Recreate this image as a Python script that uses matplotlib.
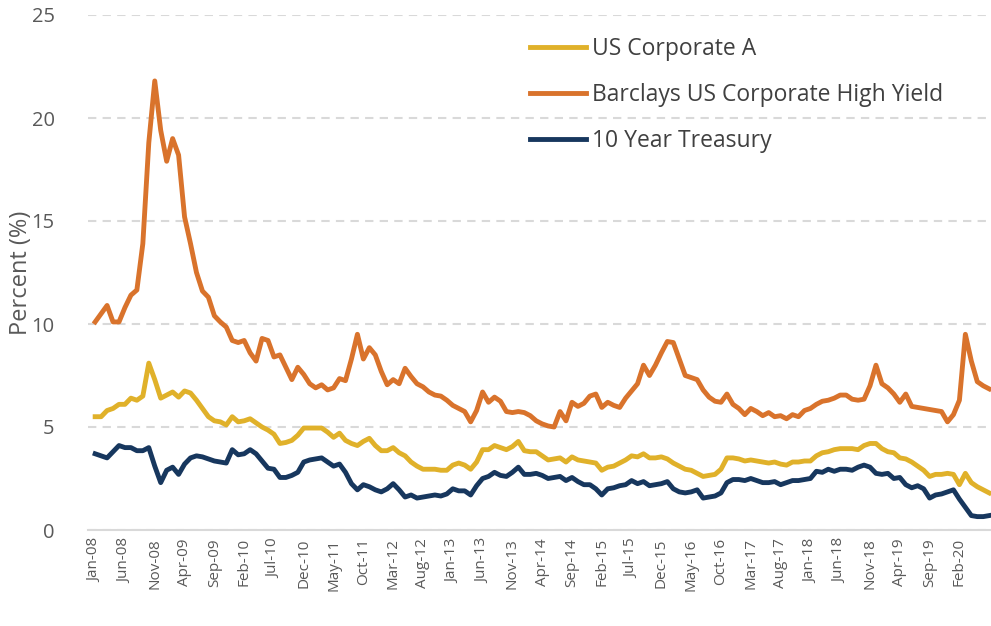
import numpy as np
import pandas as pd
import matplotlib
matplotlib.use("Agg")
import matplotlib.pyplot as plt

plt.rcParams['font.family'] = ['Open Sans', 'DejaVu Sans']

# monthly, Jan-08 .. Jul-20
months = pd.date_range("2008-01-01", "2020-07-01", freq="MS").strftime("%b-%y").tolist()

corp_a = [5.5, 5.5, 5.8, 5.9, 6.1, 6.1, 6.4, 6.3, 6.5, 8.1, 7.3, 6.4,
          6.55, 6.7, 6.45, 6.75, 6.65, 6.3, 5.9, 5.5, 5.3, 5.25, 5.1, 5.5,
          5.25, 5.3, 5.4, 5.2, 5.0, 4.85, 4.65, 4.2, 4.25, 4.35, 4.6, 4.95,
          4.95, 4.95, 4.95, 4.75, 4.5, 4.7, 4.35, 4.2, 4.1, 4.3, 4.45, 4.1,
          3.85, 3.85, 4.0, 3.75, 3.6, 3.3, 3.1, 2.95, 2.95, 2.95, 2.9, 2.9,
          3.15, 3.25, 3.15, 2.95, 3.3, 3.9, 3.9, 4.1, 4.0, 3.9, 4.05, 4.3,
          3.85, 3.8, 3.8, 3.6, 3.4, 3.45, 3.5, 3.3, 3.55, 3.4, 3.35, 3.3,
          3.25, 2.9, 3.05, 3.1, 3.25, 3.4, 3.6, 3.55, 3.7, 3.5, 3.5, 3.55,
          3.45, 3.25, 3.1, 2.95, 2.9, 2.75, 2.6, 2.65, 2.7, 2.95, 3.5, 3.5,
          3.45, 3.35, 3.4, 3.35, 3.3, 3.25, 3.3, 3.2, 3.15, 3.3, 3.3, 3.35,
          3.35, 3.6, 3.75, 3.8, 3.9, 3.95, 3.95, 3.95, 3.9, 4.1, 4.2, 4.2,
          3.95, 3.8, 3.75, 3.5, 3.45, 3.3, 3.1, 2.9, 2.6, 2.7, 2.7, 2.75,
          2.7, 2.2, 2.75, 2.3, 2.1, 1.95, 1.8]

high_yield = [10.1, 10.5, 10.9, 10.1, 10.1, 10.8, 11.4, 11.65, 13.9, 18.8, 21.8, 19.4,
              17.9, 19.0, 18.2, 15.2, 13.9, 12.5, 11.6, 11.3, 10.4, 10.1, 9.85, 9.2,
              9.1, 9.2, 8.6, 8.2, 9.3, 9.2, 8.4, 8.5, 7.9, 7.3, 7.9, 7.55,
              7.1, 6.9, 7.05, 6.8, 6.9, 7.35, 7.25, 8.3, 9.5, 8.3, 8.85, 8.5,
              7.7, 7.05, 7.3, 7.1, 7.85, 7.45, 7.1, 6.95, 6.7, 6.55, 6.5, 6.3,
              6.05, 5.9, 5.75, 5.25, 5.8, 6.7, 6.2, 6.45, 6.25, 5.75, 5.7, 5.75,
              5.7, 5.55, 5.3, 5.15, 5.05, 5.0, 5.75, 5.3, 6.2, 6.0, 6.15, 6.5,
              6.6, 5.95, 6.2, 6.05, 5.95, 6.4, 6.75, 7.1, 8.0, 7.5, 8.0, 8.6,
              9.15, 9.1, 8.3, 7.5, 7.4, 7.3, 6.8, 6.45, 6.25, 6.2, 6.6, 6.1,
              5.9, 5.6, 5.9, 5.75, 5.55, 5.7, 5.5, 5.55, 5.4, 5.6, 5.5, 5.8,
              5.9, 6.1, 6.25, 6.3, 6.4, 6.55, 6.55, 6.35, 6.3, 6.35, 7.0, 8.0,
              7.1, 6.9, 6.6, 6.2, 6.6, 6.0, 5.95, 5.9, 5.85, 5.8, 5.75, 5.25,
              5.6, 6.3, 9.5, 8.2, 7.2, 7.0, 6.85]

treasury_10y = [3.7, 3.6, 3.5, 3.8, 4.1, 4.0, 4.0, 3.85, 3.85, 4.0, 3.1, 2.3,
                2.9, 3.05, 2.7, 3.2, 3.5, 3.6, 3.55, 3.45, 3.35, 3.3, 3.25, 3.9,
                3.65, 3.7, 3.9, 3.7, 3.35, 3.0, 2.95, 2.55, 2.55, 2.65, 2.8, 3.3,
                3.4, 3.45, 3.5, 3.3, 3.1, 3.2, 2.8, 2.25, 1.95, 2.2, 2.1, 1.95,
                1.85, 2.0, 2.25, 1.95, 1.6, 1.7, 1.55, 1.6, 1.65, 1.7, 1.65, 1.75,
                2.0, 1.9, 1.9, 1.7, 2.15, 2.5, 2.6, 2.8, 2.65, 2.6, 2.8, 3.05,
                2.7, 2.7, 2.75, 2.65, 2.5, 2.55, 2.6, 2.4, 2.55, 2.35, 2.2, 2.2,
                2.0, 1.7, 2.0, 2.05, 2.15, 2.2, 2.4, 2.25, 2.35, 2.15, 2.2, 2.25,
                2.35, 2.0, 1.85, 1.8, 1.85, 1.95, 1.55, 1.6, 1.65, 1.8, 2.3, 2.45,
                2.45, 2.4, 2.5, 2.4, 2.3, 2.3, 2.35, 2.2, 2.3, 2.4, 2.4, 2.45,
                2.5, 2.85, 2.8, 2.95, 2.85, 2.95, 2.95, 2.9, 3.05, 3.15, 3.05, 2.75,
                2.7, 2.75, 2.5, 2.55, 2.2, 2.05, 2.15, 2.0, 1.55, 1.7, 1.75, 1.85,
                1.95, 1.5, 1.1, 0.7, 0.65, 0.65, 0.7]

text_col = '#595959'
grid_col = '#d9d9d9'

fig = plt.figure(figsize=(9.91, 6.26), dpi=100)
ax = fig.add_axes([88/991, 1-530/626, 1-88/991, (530-15)/626])

x = np.arange(len(months))
ax.plot(x, corp_a, color='#e0b12a', lw=3.5, label='US Corporate A', solid_joinstyle='round')
ax.plot(x, high_yield, color='#d9732c', lw=3.5, label='Barclays US Corporate High Yield', solid_joinstyle='round')
ax.plot(x, treasury_10y, color='#17375e', lw=3.5, label='10 Year Treasury', solid_joinstyle='round')

ax.set_ylim(0, 25)
ax.set_xlim(-1.2, 150.3)
ax.set_yticks([0, 5, 10, 15, 20, 25])
# ticks every 5 months, last one Feb-20
ax.set_xticks(x[:146:5])
ax.set_xticklabels(months[:146:5], rotation=90, fontsize=11, color=text_col)
ax.tick_params(axis='y', length=0, pad=24, labelsize=14.5, labelcolor=text_col)
ax.tick_params(axis='x', length=0, pad=6)

ax.yaxis.grid(True, color=grid_col, linestyle=(0, (4, 3)), linewidth=1.5)
ax.set_axisbelow(True)
for s in ['top', 'right', 'left']:
    ax.spines[s].set_visible(False)
ax.spines['bottom'].set_color(grid_col)
ax.spines['bottom'].set_linewidth(1.5)

ax.set_ylabel('Percent (%)', fontsize=17, color=text_col)
ax.yaxis.set_label_coords(-0.061, 0.5)

ax.legend(frameon=False, loc='upper left', bbox_to_anchor=(530/991, 1-37/626),
          bbox_transform=fig.transFigure, fontsize=16.5, handlelength=2.45,
          handletextpad=0.26, labelspacing=0.97, borderpad=0, borderaxespad=0,
          labelcolor='#404040')

fig.savefig('out.png', dpi=100)
